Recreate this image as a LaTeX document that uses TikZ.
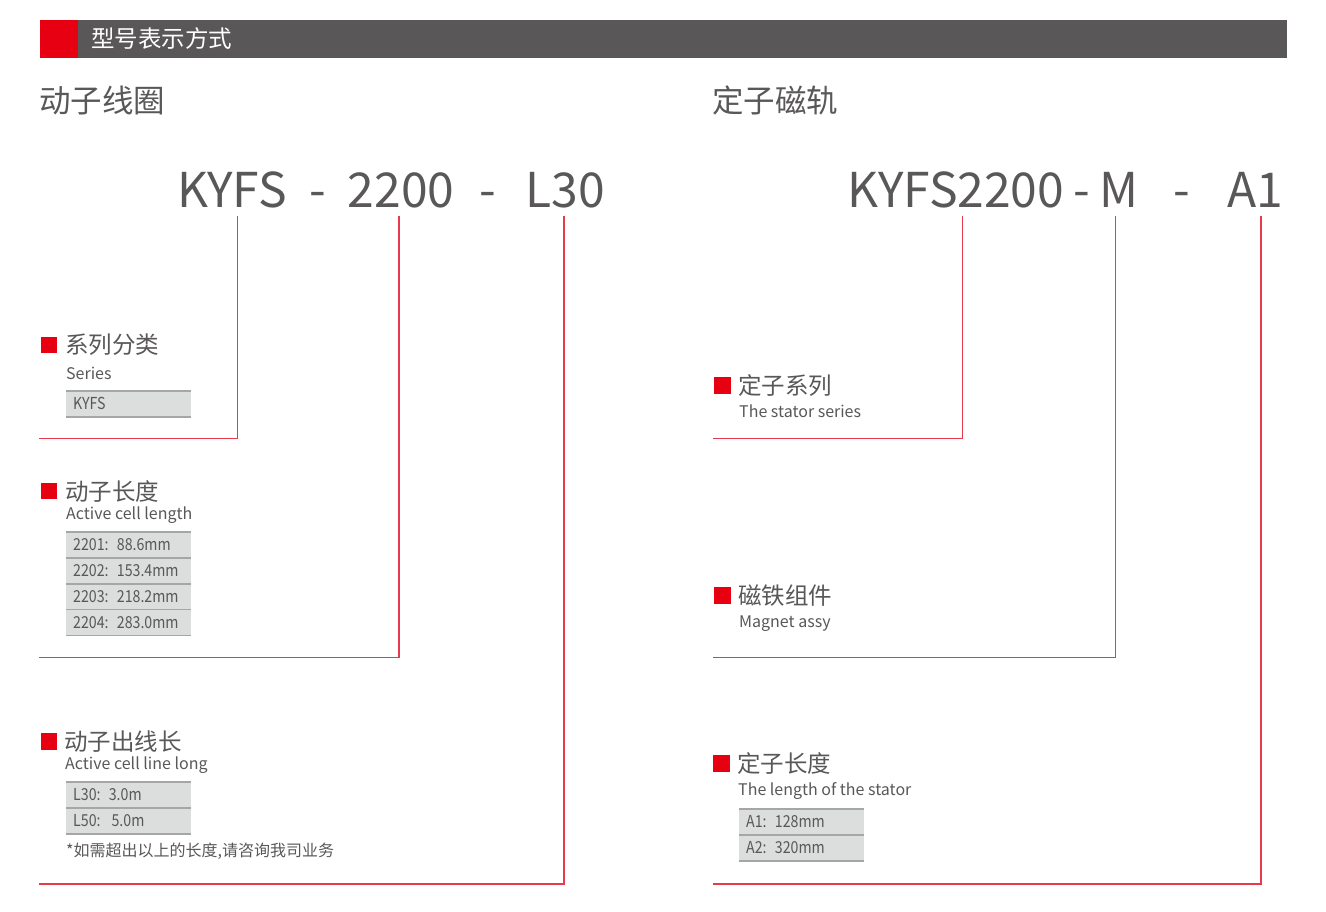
\documentclass[tikz,border=0pt]{standalone}
\usepackage{fontspec}
\setmainfont{Noto Sans CJK SC}
\newfontfamily\cellfont[FakeStretch=0.86, WordSpace=0.55]{Noto Sans CJK SC}
\usetikzlibrary{positioning}
\definecolor{txtgray}{HTML}{595757}
\definecolor{barred}{HTML}{E60012}
\definecolor{leadred}{HTML}{E8394D}
\definecolor{cellgray}{HTML}{DCDDDD}
\definecolor{rulegray}{HTML}{A5A6A6}
\tikzset{
  every node/.style={inner sep=0pt, text=txtgray},
  code/.style={anchor=base, font=\fontsize{48}{48}\selectfont},
  heading/.style={anchor=west, font=\fontsize{31.5}{31.5}\selectfont},
  itemtitle/.style={anchor=west, font=\fontsize{23.5}{23.5}\selectfont},
  itemsub/.style={anchor=base west, font=\fontsize{16}{16}\selectfont},
  redsq/.style={fill=barred},
  lead/.style={draw=leadred, line width=1.6pt},
  cellbox/.style={fill=cellgray, minimum height=25.5pt, text width=111pt,
    inner xsep=7pt, align=left, text height=11.5pt, text depth=0pt,
    font=\cellfont\fontsize{16.5}{16.5}\selectfont},
  cellrule/.style={draw=rulegray, line width=1.5pt}
}
\begin{document}
\begin{tikzpicture}[x=1pt, y=-1pt]
\useasboundingbox (0,0) rectangle (1326,911);
% Title bar
    \fill[txtgray] (78,20) rectangle (1287,58);
    \fill[barred] (40,20) rectangle (78,58);
    \node[itemtitle, text=white] (bartitle) at (91,38.5) {型号表示方式};
% Headings
    \node[heading] (mover) at (39,100) {动子线圈};
    \node[heading] (stator) at (712,100) {定子磁轨};
% Model codes
    \node[code] (kyfs) at (232,207) {KYFS};
    \node[code] (dash1) at (317.5,207) {-};
    \node[code] (size) at (401,207) {2200};
    \node[code] (dash2) at (487.5,207) {-};
    \node[code] (cable) at (565,207) {L30};
    \node[code] (stkyfs) at (956,207) {KYFS2200};
    \node[code] (dash3) at (1081.5,207) {-};
    \node[code] (magnet) at (1118.5,207) {M};
    \node[code] (dash4) at (1181.5,207) {-};
    \node[code] (stlen) at (1255,207) {A1};
% Leaders
    \coordinate (kyfs-top) at (237.5,216);
    \coordinate (kyfs-end) at (39,438.5);
    \coordinate (size-top) at (398.8,216);
    \coordinate (size-end) at (39,657.5);
    \coordinate (cable-top) at (564,216);
    \coordinate (cable-end) at (39,884);
    \coordinate (stkyfs-top) at (962.3,216);
    \coordinate (stkyfs-end) at (713,438.5);
    \coordinate (magnet-top) at (1115.3,216);
    \coordinate (magnet-end) at (713,657.5);
    \coordinate (stlen-top) at (1261,216);
    \coordinate (stlen-end) at (713,884);
    \draw[lead] (kyfs-top) |- (kyfs-end);
    \draw[lead] (size-top) |- (size-end);
    \draw[lead] (cable-top) |- (cable-end);
    \draw[lead] (stkyfs-top) |- (stkyfs-end);
    \draw[lead] (magnet-top) |- (magnet-end);
    \draw[lead] (stlen-top) |- (stlen-end);
% Series
    \fill[redsq] (41,337) rectangle (57,353);
    \node[itemtitle] (sertitle) at (65,345) {系列分类};
    \node[itemsub] (sersub) at (66,379) {Series};
    \node[cellbox, anchor=north west] (ser1) at (66,391) {KYFS};
    \draw[cellrule] (ser1.north west) -- (ser1.north east);
    \draw[cellrule] (ser1.south west) -- (ser1.south east);
% Active cell length
    \fill[redsq] (41,483) rectangle (57,499);
    \node[itemtitle] (lentitle) at (65,491.5) {动子长度};
    \node[itemsub] (lensub) at (66,519) {Active cell length};
    \node[cellbox, anchor=north west] (len1) at (66,532) {2201: 88.6mm};
    \node[cellbox, below=0pt of len1] (len2) {2202: 153.4mm};
    \node[cellbox, below=0pt of len2] (len3) {2203: 218.2mm};
    \node[cellbox, below=0pt of len3] (len4) {2204: 283.0mm};
    \draw[cellrule] (len1.north west) -- (len1.north east);
    \draw[cellrule] (len2.north west) -- (len2.north east);
    \draw[cellrule] (len3.north west) -- (len3.north east);
    \draw[cellrule] (len4.north west) -- (len4.north east);
    \draw[cellrule] (len4.south west) -- (len4.south east);
% Active cell line long
    \fill[redsq] (41,733) rectangle (57,750);
    \node[itemtitle] (cabtitle) at (64,742) {动子出线长};
    \node[itemsub] (cabsub) at (65,769) {Active cell line long};
    \node[cellbox, anchor=north west] (cab1) at (66,782) {L30: 3.0m};
    \node[cellbox, below=0pt of cab1] (cab2) {L50:\ \ 5.0m};
    \draw[cellrule] (cab1.north west) -- (cab1.north east);
    \draw[cellrule] (cab2.north west) -- (cab2.north east);
    \draw[cellrule] (cab2.south west) -- (cab2.south east);
    \node[itemsub, anchor=west] (cabnote) at (66,851) {*如需超出以上的长度,请咨询我司业务};
% Stator series
    \fill[redsq] (714,377) rectangle (731,394);
    \node[itemtitle] (sttitle) at (738,385.5) {定子系列};
    \node[itemsub] (stsub) at (739,417) {The stator series};
% Magnet assy
    \fill[redsq] (714,587) rectangle (731,604);
    \node[itemtitle] (magtitle) at (738,596) {磁铁组件};
    \node[itemsub] (magsub) at (739,627) {Magnet assy};
% Stator length
    \fill[redsq] (713,755) rectangle (730,772);
    \node[itemtitle] (sltitle) at (737,764) {定子长度};
    \node[itemsub] (slsub) at (738,795) {The length of the stator};
    \node[cellbox, anchor=north west] (sl1) at (739,809) {A1: 128mm};
    \node[cellbox, below=0pt of sl1] (sl2) {A2: 320mm};
    \draw[cellrule] (sl1.north west) -- (sl1.north east);
    \draw[cellrule] (sl2.north west) -- (sl2.north east);
    \draw[cellrule] (sl2.south west) -- (sl2.south east);
\end{tikzpicture}
\end{document}
